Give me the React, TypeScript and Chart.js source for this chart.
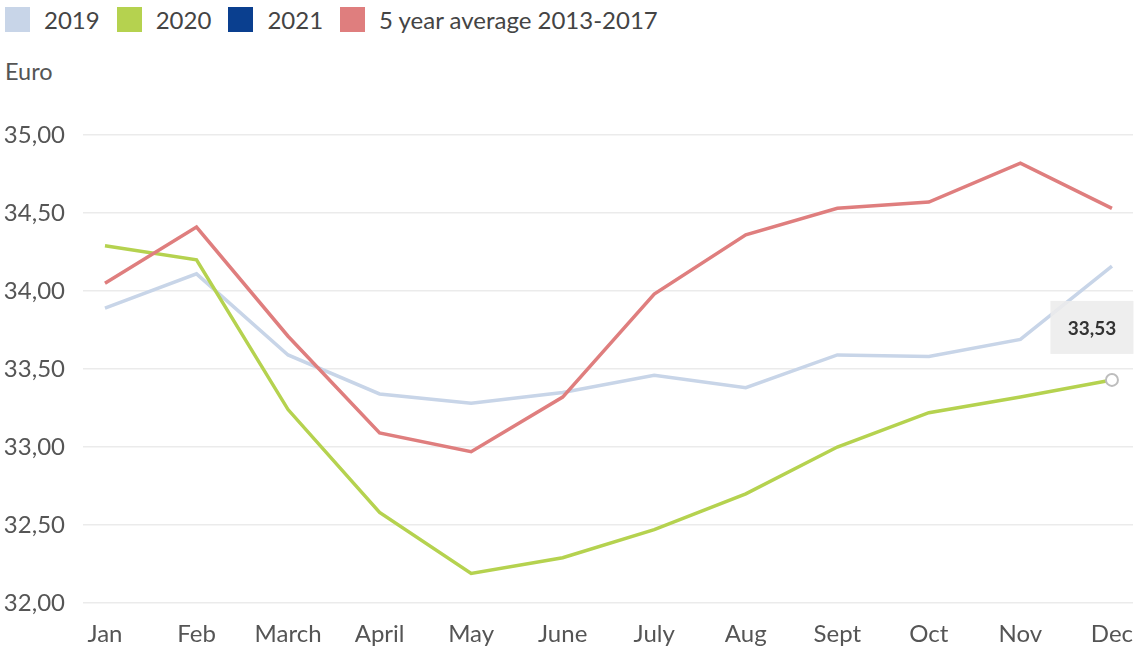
import React, { useEffect, useRef } from "react";
import { Chart, registerables } from "chart.js";

Chart.register(...registerables);

const months = ["Jan", "Feb", "March", "April", "May", "June", "July", "Aug", "Sept", "Oct", "Nov", "Dec"];
const values2019 = [33.89, 34.11, 33.59, 33.34, 33.28, 33.35, 33.46, 33.38, 33.59, 33.58, 33.69, 34.16];
const values2020 = [34.29, 34.2, 33.24, 32.58, 32.19, 32.29, 32.47, 32.7, 33.0, 33.22, 33.32, 33.43];
const values2021: number[] = [];
const valuesAvg = [34.05, 34.41, 33.71, 33.09, 32.97, 33.32, 33.98, 34.36, 34.53, 34.57, 34.82, 34.53];
const yTicks = [32, 32.5, 33, 33.5, 34, 34.5, 35];
const seriesNames = ["2019", "2020", "2021", "5 year average 2013-2017"];
const seriesColors = ["#c8d5e8", "#b5d24f", "#0a3f8f", "#df7e7e"];
const unitLabel = "Euro";
const highlightLabel = "33,53";

const FONT = "Lato, 'Open Sans', sans-serif";

const fmt = (v: number) => v.toFixed(2).replace(".", ",");

const highlightPlugin = {
  id: "highlightBox",
  afterDatasetsDraw(chart: any) {
    const meta = chart.getDatasetMeta(1);
    const pt = meta.data[meta.data.length - 1];
    if (!pt) return;
    const ctx = chart.ctx;
    const w = 83;
    const h = 53;
    const cx = pt.x - 20;
    const bottom = pt.y - 26;
    ctx.save();
    ctx.fillStyle = "rgba(236,236,236,0.88)";
    ctx.fillRect(cx - w / 2, bottom - h, w, h);
    ctx.font = `bold 19px ${FONT}`;
    ctx.fillStyle = "#333333";
    ctx.textAlign = "center";
    ctx.textBaseline = "middle";
    ctx.fillText(highlightLabel, cx, bottom - h / 2 + 1);
    ctx.restore();
  },
};

export default function App() {
  const canvasRef = useRef<HTMLCanvasElement | null>(null);

  useEffect(() => {
    if (!canvasRef.current) return;
    const toPts = (arr: number[]) => arr.map((v, i) => ({ x: i, y: v }));
    const lastIdx = values2020.length - 1;
    const tickFont = { family: FONT, size: 24 };
    const chart = new Chart(canvasRef.current, {
      type: "line",
      data: {
        datasets: [
          {
            label: seriesNames[0],
            data: toPts(values2019),
            borderColor: seriesColors[0],
            backgroundColor: seriesColors[0],
            borderWidth: 3.5,
            pointRadius: 0,
            tension: 0,
            order: 2,
          },
          {
            label: seriesNames[1],
            data: toPts(values2020),
            borderColor: seriesColors[1],
            backgroundColor: seriesColors[1],
            borderWidth: 3.5,
            pointRadius: (c: any) => (c.dataIndex === lastIdx ? 6 : 0),
            pointBackgroundColor: "#ffffff",
            pointBorderColor: "#bdbdbd",
            pointBorderWidth: 2,
            tension: 0,
            order: 1,
          },
          {
            label: seriesNames[2],
            data: toPts(values2021),
            borderColor: seriesColors[2],
            backgroundColor: seriesColors[2],
            borderWidth: 3.5,
            pointRadius: 0,
            order: 3,
          },
          {
            label: seriesNames[3],
            data: toPts(valuesAvg),
            borderColor: seriesColors[3],
            backgroundColor: seriesColors[3],
            borderWidth: 3.5,
            pointRadius: 0,
            tension: 0,
            order: 0,
          },
        ],
      },
      options: {
        animation: false,
        responsive: false,
        maintainAspectRatio: false,
        layout: { padding: { left: 0, right: 8, top: 135, bottom: 0 } },
        plugins: {
          legend: { display: false },
          tooltip: { enabled: false },
          title: { display: false },
        },
        scales: {
          x: {
            type: "linear",
            min: -0.24,
            max: 11.23,
            afterBuildTicks: (s: any) => {
              s.ticks = months.map((_, i) => ({ value: i }));
            },
            afterFit: (s: any) => {
              s.height = 48;
              s.paddingLeft = 0;
              s.paddingRight = 0;
            },
            ticks: {
              autoSkip: false,
              maxRotation: 0,
              padding: 9,
              color: "#555555",
              font: tickFont,
              callback: (v: any) => months[Math.round(Number(v))] ?? "",
            },
            grid: { display: false },
            border: { display: false },
          },
          y: {
            min: 32,
            max: 35,
            afterBuildTicks: (s: any) => {
              s.ticks = yTicks.map((v) => ({ value: v }));
            },
            afterFit: (s: any) => {
              s.width = 83;
            },
            ticks: {
              padding: 18,
              color: "#555555",
              font: tickFont,
              callback: (v: any) => fmt(Number(v)),
            },
            grid: { color: "#ebebeb", lineWidth: 1.5, drawTicks: false },
            border: { display: false },
          },
        },
      },
      plugins: [highlightPlugin],
    } as any);
    return () => chart.destroy();
  }, []);

  return (
    <div style={{ position: "absolute", left: 0, top: 0, width: 1141, height: 651, background: "#ffffff", fontFamily: FONT }}>
      <div style={{ position: "absolute", left: 5, top: 7, display: "flex", alignItems: "center", gap: 17 }}>
        {seriesNames.map((name, i) => (
          <div key={name} style={{ display: "flex", alignItems: "center" }}>
            <div style={{ width: 25, height: 25, background: seriesColors[i] }} />
            <span style={{ marginLeft: 14, fontSize: 24, color: "#444444", lineHeight: "25px" }}>{name}</span>
          </div>
        ))}
      </div>
      <div style={{ position: "absolute", left: 5, top: 57, fontSize: 23.5, color: "#555555", lineHeight: "normal" }}>{unitLabel}</div>
      <canvas ref={canvasRef} width={1141} height={651} style={{ position: "absolute", left: 0, top: 0, width: 1141, height: 651 }} />
    </div>
  );
}
